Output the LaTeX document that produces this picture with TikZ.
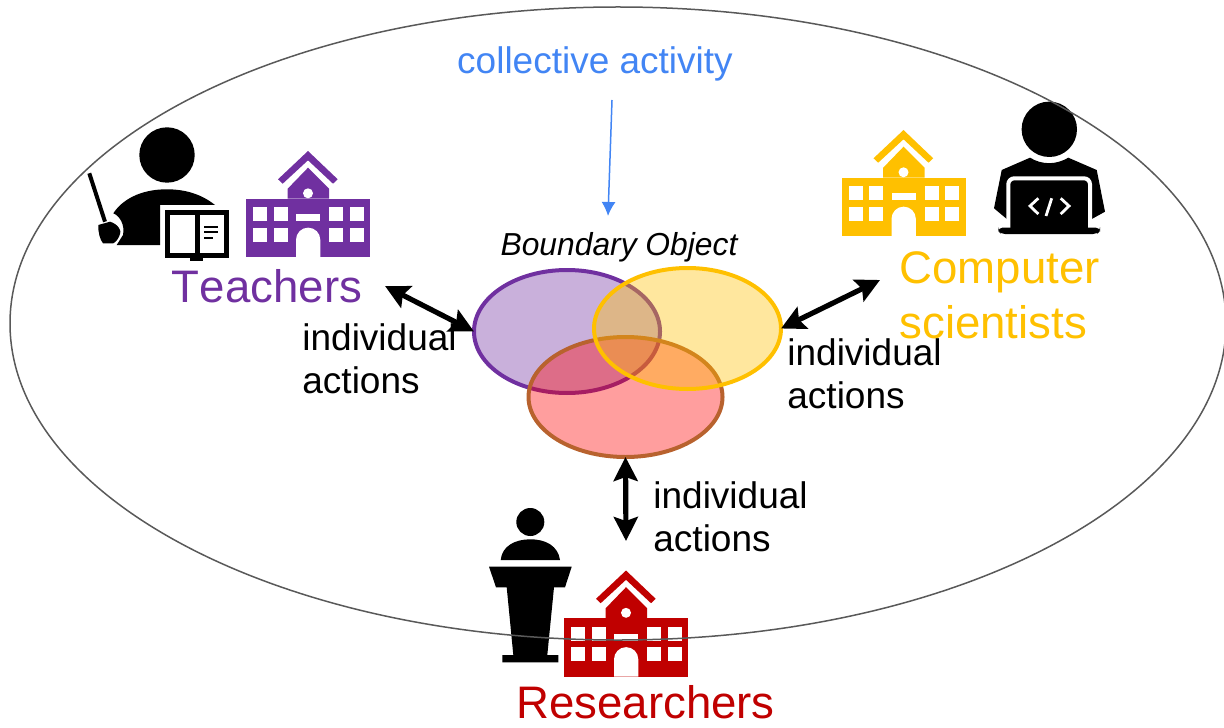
\documentclass[tikz,border=0pt]{standalone}
\usepackage{fontspec}
\setmainfont{Liberation Sans}
\usetikzlibrary{arrows.meta,shapes.geometric}
\definecolor{tpurple}{HTML}{7030A0}
\definecolor{cyellow}{HTML}{FFC000}
\definecolor{rred}{HTML}{C00000}
\definecolor{lineblue}{HTML}{4285F4}
\definecolor{rborder}{HTML}{B8622E}
\newcommand{\school}[3]{
    \begin{scope}[shift={(#1,#2)}]
    \fill[#3] (0,47.7) rectangle (124.3,106);
    \fill[#3] (41.7,47.7)--(41.7,37.7)--(62,16.7)--(83,37.7)--(83,47.7)--cycle;
    \fill[#3] (62,0)--(32,28.3)--(36.7,32.7)--(62,9.3)--(87,32.7)--(91.7,28.3)--cycle;
    \fill[white] (62,42.3) circle (5);
    \foreach \wx in {7,27.7,83,103.7}{
        \fill[white] (\wx,56) rectangle ++(14,14);
        \fill[white] (\wx,76.7) rectangle ++(14,14);
    }
    \fill[white] (50,63) rectangle (74.3,70);
    \fill[white] (50,106)--(50,88.8) arc (180:360:12.15)--(74.3,106)--cycle;
    \end{scope}
}
\tikzset{
    venn/.style={ellipse,draw,line width=2pt,fill opacity=0.38,draw opacity=1,inner sep=0pt,outer sep=0pt},
    both/.style={<->,>={Stealth[length=12pt,width=12pt,inset=2pt]},line width=2.6pt},
    lbl/.style={font=\fontsize{18.5}{21.5}\selectfont,align=left,anchor=west,inner sep=0pt},
    grp/.style={font=\fontsize{22.8}{27.5}\selectfont\addfontfeature{Kerning=Off},inner sep=0pt}
}
\begin{document}
\begin{tikzpicture}[x=0.5pt,y=-0.5pt]
    \useasboundingbox (0,0) rectangle (1224,727);

    % teacher
    \fill (167,155) circle (27.7);
    \fill (116.7,245)--(160,245)--(160,205)--(215,205) .. controls (200,193) and (183,189.3) .. (166.7,189.3) .. controls (140,189.3) and (122,200) .. (113.3,213.3) .. controls (120,216) and (125,225) .. (123,235)--(116.7,245)--cycle;
    \draw[line width=2pt] (89.3,173.3)--(105,221.7);
    \fill (98.3,225)--(110,221.7) .. controls (118,224) and (122,231) .. (120,234) .. controls (119,238) and (116,242) .. (113.3,243.3)--(103,243.3) .. controls (100,240) and (98,232) .. (98.3,225)--cycle;
    \draw[line width=2.5pt,fill=white] (167.5,212.5) rectangle (226.2,255.2);
    \fill (195,212) rectangle (199.5,255);
    \fill (190,257) rectangle (203,261);
    \draw[line width=1pt] (204.3,226.7)--(217.7,226.7) (204.3,231.7)--(217.7,231.7) (204.3,237.7)--(213.3,237.7);
    \school{246}{151}{tpurple}

    % computer scientist
    \school{841.5}{130}{cyellow}
    \fill (1049.3,129.3) circle (27.7);
    \fill (1030,157.7) .. controls (1042,165) and (1056,165) .. (1068.3,157.7)--(1096.7,170)--(1105,211.7)--(1090,220)--(1090,228)--(1008,228)--(1008,220)--(994,208.3)--(1001.7,170)--cycle;
    \draw[white,line width=2pt,rounded corners=3pt] (1008.3,228)--(1008.3,178.3)--(1090,178.3)--(1090,228);
    \fill[rounded corners=2pt] (998.3,227.7)--(1100,227.7)--(1100,231)--(1097,234)--(1001,234)--(998.3,231)--cycle;
    \draw[white,line width=1.4pt] (1038.3,198.3)--(1030,206)--(1038.3,214);
    \draw[white,line width=1.4pt] (1051.7,198.3)--(1046,216);
    \draw[white,line width=1.4pt] (1060.7,198.3)--(1069,206)--(1060.7,214);

    % researcher
    \fill (530.3,522) circle (14);
    \fill (500.7,560) .. controls (502,546) and (515,539.3) .. (530.3,539.3) .. controls (546,539.3) and (558,546) .. (560,560)--cycle;
    \fill (489,566.7)--(571.7,566.7)--(565,587.3)--(554,587.3)--(547.3,655)--(558.3,655)--(558.3,662.3)--(502.3,662.3)--(502.3,655)--(513.3,655)--(506.7,587.3)--(496,587.3)--cycle;
    \school{564}{570.5}{rred}

    \node[ellipse,draw=black!65,line width=0.75pt,minimum width=608pt,minimum height=316.5pt,inner sep=0pt,outer sep=0pt] (activity) at (618,323.5) {};

    \node[venn,draw=tpurple,fill=tpurple,minimum width=93pt,minimum height=61.5pt] (purple) at (567,331.5) {};
    \node[venn,draw=rborder,fill=red,minimum width=97pt,minimum height=60pt] (redset) at (625.5,397) {};
    \node[venn,draw=cyellow,fill=cyellow,minimum width=93.5pt,minimum height=60.5pt] (yellow) at (687.5,328.5) {};

    \node[font=\fontsize{18.5}{21.5}\selectfont,text=lineblue,inner sep=0pt] (collective) at (595,64) {collective activity};
    \node[font=\fontsize{15.9}{19}\selectfont\itshape,inner sep=0pt] (boundary) at (619,247) {Boundary Object};
    \node[grp,text=tpurple,anchor=base] (teachers) at (267,302) {Teachers};
    \node[grp,text=cyellow,align=left,anchor=north west] (scientists) at (899,251) {Computer\\scientists};
    \node[grp,text=rred,anchor=base] (researchers) at (645.5,718) {Researchers};

    \node[lbl] (lblteachers) at (302,359) {individual\\actions};
    \node[lbl] (lblscientists) at (787,374) {individual\\actions};
    \node[lbl] (lblresearchers) at (653,517) {individual\\actions};

    \coordinate (tend) at (385,286);
    \coordinate (send) at (880,280);
    \coordinate (rend) at (626,541);
    \coordinate (cstart) at (612,100);
    \coordinate (cend) at (608,216);
    \draw[both] (tend)--(purple.west);
    \draw[both] (send)--(yellow.east);
    \draw[both] (rend)--(redset.south);
    \draw[lineblue,line width=0.75pt,-{Latex[length=7pt,width=7pt]}] (cstart)--(cend);
\end{tikzpicture}
\end{document}
